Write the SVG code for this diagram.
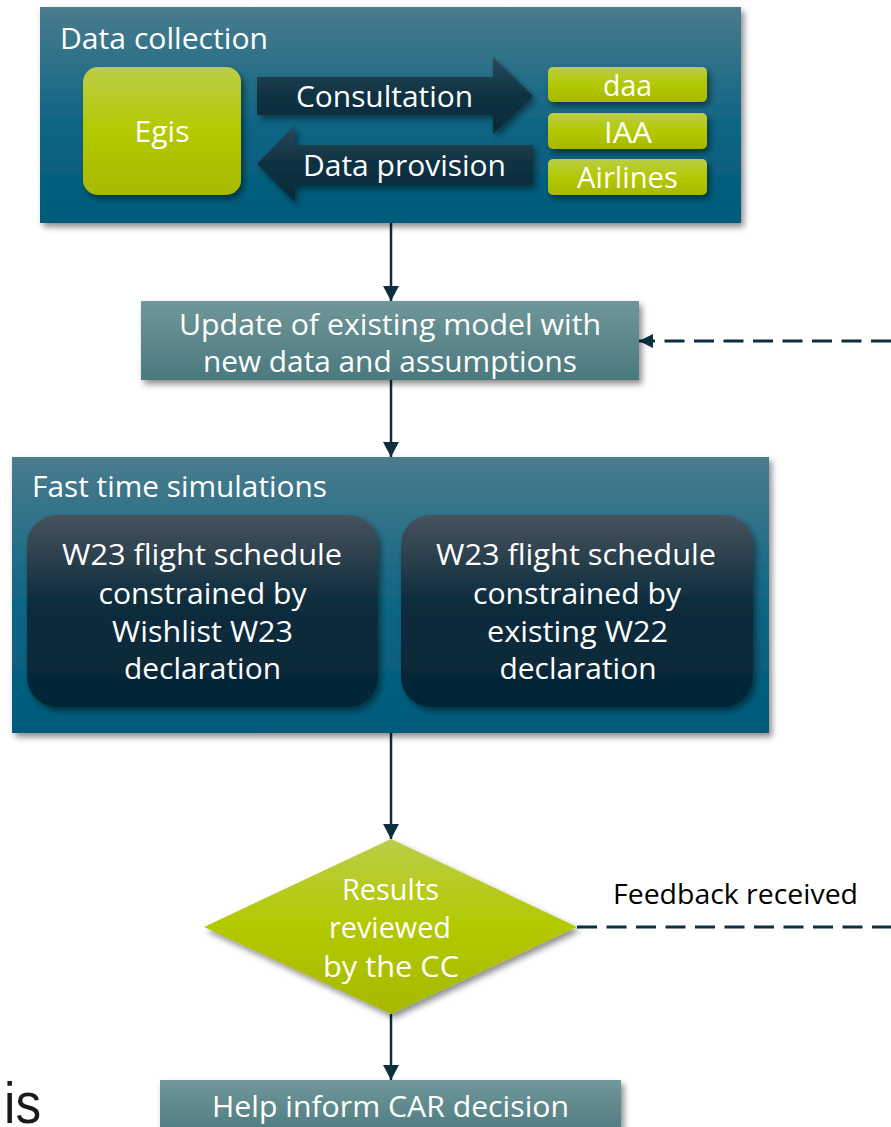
<svg xmlns="http://www.w3.org/2000/svg" width="891" height="1127" viewBox="0 0 891 1127">
<style>
text{font-family:"Open Sans","Noto Sans","DejaVu Sans",sans-serif;fill:#ffffff;font-size:29px}
.c{text-anchor:middle}
.lbl{fill:#000000;font-size:28px}
.conn{stroke:#0c2f3f;stroke-width:2.5;fill:none}
.dash{stroke:#0c2f3f;stroke-width:3;fill:none;stroke-dasharray:20 9.5}
</style>
<defs>
<linearGradient id="gOuter" x1="0" y1="0" x2="0" y2="1">
<stop offset="0" stop-color="#4a7b8d"/>
<stop offset="0.55" stop-color="#0d6584"/>
<stop offset="1" stop-color="#005a7a"/>
</linearGradient>
<linearGradient id="gLime" x1="0" y1="0" x2="0" y2="1">
<stop offset="0" stop-color="#bbcd48"/>
<stop offset="0.5" stop-color="#b3c900"/>
<stop offset="1" stop-color="#a8b800"/>
</linearGradient>
<linearGradient id="gDark" x1="0" y1="0" x2="0" y2="1">
<stop offset="0" stop-color="#47535d"/>
<stop offset="0.45" stop-color="#0e2d3d"/>
<stop offset="1" stop-color="#032636"/>
</linearGradient>
<linearGradient id="gArrow" x1="0" y1="0" x2="0" y2="1">
<stop offset="0" stop-color="#2a4a5a"/>
<stop offset="0.5" stop-color="#0f3142"/>
<stop offset="1" stop-color="#082a3a"/>
</linearGradient>
<linearGradient id="gGrey" x1="0" y1="0" x2="0" y2="1">
<stop offset="0" stop-color="#709799"/>
<stop offset="1" stop-color="#4a797e"/>
</linearGradient>
<filter id="sh" x="-10%" y="-10%" width="125%" height="130%">
<feDropShadow dx="3" dy="4" stdDeviation="3" flood-color="#000000" flood-opacity="0.45"/>
</filter>
<marker id="ah" markerUnits="userSpaceOnUse" markerWidth="17" markerHeight="17" refX="15" refY="8" orient="auto">
<path d="M0,0 L15,8 L0,16 Z" fill="#0c2f3f"/>
</marker>
<marker id="ahd" markerUnits="userSpaceOnUse" markerWidth="16" markerHeight="16" refX="14" refY="7" orient="auto">
<path d="M0,0 L14,7 L0,14 Z" fill="#0c2f3f"/>
</marker>
</defs>
<rect width="891" height="1127" fill="#ffffff"/>

<g id="connectors">
<line class="conn" x1="391" y1="223" x2="391" y2="301" marker-end="url(#ah)"/>
<line class="conn" x1="391" y1="380" x2="391" y2="457" marker-end="url(#ah)"/>
<line class="conn" x1="391" y1="733" x2="391" y2="839" marker-end="url(#ah)"/>
<line class="conn" x1="391" y1="1014" x2="391" y2="1080" marker-end="url(#ah)"/>
<line class="dash" x1="891" y1="341" x2="639" y2="341" marker-end="url(#ahd)"/>
<line class="dash" x1="577" y1="927" x2="891" y2="927"/>
</g>

<g id="data-collection">
<rect x="40" y="7" width="701" height="216" fill="url(#gOuter)" filter="url(#sh)"/>
<text x="60" y="49" textLength="208" lengthAdjust="spacingAndGlyphs">Data collection</text>
</g>
<g id="egis">
<rect x="83" y="67" width="158" height="128" rx="15" fill="url(#gLime)" filter="url(#sh)"/>
<text class="c" x="162" y="142" textLength="55" lengthAdjust="spacingAndGlyphs">Egis</text>
</g>
<g id="consultation">
<path d="M257,77 L493,77 L493,57 L533,96 L493,134 L493,115 L257,115 Z" fill="url(#gArrow)" filter="url(#sh)"/>
<text class="c" x="384.5" y="107" textLength="177" lengthAdjust="spacingAndGlyphs">Consultation</text>
</g>
<g id="data-provision">
<path d="M533,145 L295,145 L295,125 L257,164 L295,202 L295,185 L533,185 Z" fill="url(#gArrow)" filter="url(#sh)"/>
<text class="c" x="404.5" y="176" textLength="203" lengthAdjust="spacingAndGlyphs">Data provision</text>
</g>
<g id="daa">
<rect x="548" y="67" width="159" height="35" rx="5" fill="url(#gLime)" filter="url(#sh)"/>
<text class="c" x="627.5" y="96" textLength="49" lengthAdjust="spacingAndGlyphs">daa</text>
</g>
<g id="iaa">
<rect x="548" y="113" width="159" height="36" rx="5" fill="url(#gLime)" filter="url(#sh)"/>
<text class="c" x="628" y="143" textLength="48" lengthAdjust="spacingAndGlyphs">IAA</text>
</g>
<g id="airlines">
<rect x="548" y="159" width="159" height="36" rx="5" fill="url(#gLime)" filter="url(#sh)"/>
<text class="c" x="627.5" y="188" textLength="101" lengthAdjust="spacingAndGlyphs">Airlines</text>
</g>

<g id="update-model">
<rect x="141" y="301" width="498" height="79" fill="url(#gGrey)" filter="url(#sh)"/>
<text class="c" x="390" y="335" textLength="422" lengthAdjust="spacingAndGlyphs">Update of existing model with</text>
<text class="c" x="390" y="372" textLength="374" lengthAdjust="spacingAndGlyphs">new data and assumptions</text>
</g>

<g id="fast-time-simulations">
<rect x="12" y="457" width="757" height="276" fill="url(#gOuter)" filter="url(#sh)"/>
<text x="32" y="497" textLength="295" lengthAdjust="spacingAndGlyphs">Fast time simulations</text>
</g>
<g id="schedule-wishlist">
<rect x="27" y="515" width="351" height="192" rx="30" fill="url(#gDark)" filter="url(#sh)"/>
<text class="c" x="202" y="565" textLength="280" lengthAdjust="spacingAndGlyphs">W23 flight schedule</text>
<text class="c" x="202.5" y="604" textLength="208" lengthAdjust="spacingAndGlyphs">constrained by</text>
<text class="c" x="202.5" y="642" textLength="181" lengthAdjust="spacingAndGlyphs">Wishlist W23</text>
<text class="c" x="202.5" y="679" textLength="157" lengthAdjust="spacingAndGlyphs">declaration</text>
</g>
<g id="schedule-existing">
<rect x="401" y="515" width="352" height="192" rx="30" fill="url(#gDark)" filter="url(#sh)"/>
<text class="c" x="576" y="565" textLength="280" lengthAdjust="spacingAndGlyphs">W23 flight schedule</text>
<text class="c" x="577" y="604" textLength="208" lengthAdjust="spacingAndGlyphs">constrained by</text>
<text class="c" x="577.5" y="642" textLength="181" lengthAdjust="spacingAndGlyphs">existing W22</text>
<text class="c" x="578" y="679" textLength="157" lengthAdjust="spacingAndGlyphs">declaration</text>
</g>

<g id="results-review">
<path d="M391,839 L577,927 L391,1014 L204,927 Z" fill="url(#gLime)" filter="url(#sh)"/>
<text class="c" x="390.5" y="900" textLength="97" lengthAdjust="spacingAndGlyphs">Results</text>
<text class="c" x="390" y="938" textLength="122" lengthAdjust="spacingAndGlyphs">reviewed</text>
<text class="c" x="391" y="977" textLength="136" lengthAdjust="spacingAndGlyphs">by the CC</text>
</g>
<g id="feedback-label">
<text class="lbl" x="613" y="904" textLength="245" lengthAdjust="spacingAndGlyphs">Feedback received</text>
</g>

<g id="help-inform">
<rect x="160" y="1080" width="461" height="60" fill="url(#gGrey)" filter="url(#sh)"/>
<text class="c" x="390.5" y="1117" textLength="357" lengthAdjust="spacingAndGlyphs">Help inform CAR decision</text>
</g>

<text x="4" y="1123" style="font-family:'Liberation Sans','Helvetica',sans-serif;font-size:58px;fill:#1a1a1a" textLength="37" lengthAdjust="spacingAndGlyphs">is</text>
</svg>
